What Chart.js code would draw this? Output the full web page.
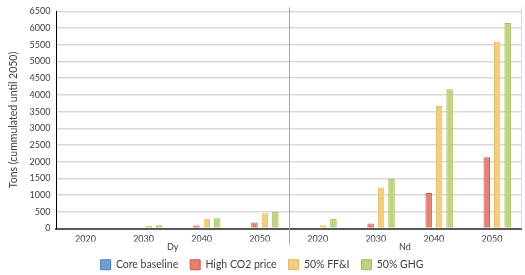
<!DOCTYPE html>
<html>
<head>
<meta charset="utf-8">
<script src="https://cdn.jsdelivr.net/npm/chart.js@4"></script>
<style>
  html, body { margin: 0; padding: 0; background: #fff; }
  #wrap { width: 525px; height: 275px; }
</style>
</head>
<body>
<div id="wrap"><canvas id="myChart"></canvas></div>
<script>
// data
var years = ['2020', '2030', '2040', '2050', '2020', '2030', '2040', '2050'];
var metals = ['Dy', 'Nd'];
var coreBaseline = [0, 0, 0, 0, 0, 0, 0, 0];
var highCO2 = [0, 0, 90, 180, 0, 150, 1060, 2130];
var ffi50 = [0, 80, 290, 460, 100, 1230, 3670, 5600];
var ghg50 = [0, 100, 310, 500, 290, 1490, 4170, 6150];
var yTicks = [0, 500, 1000, 1500, 2000, 2500, 3000, 3500, 4000, 4500, 5000, 5500, 6000, 6500];

var fuente = "Lato, 'Open Sans', sans-serif";

// lines splitting the two groups and closing the right side
const separador = {
    id: 'separador',
    afterDatasetsDraw(chart) {
        const ctx = chart.ctx;
        const x = chart.scales.x;
        const area = chart.chartArea;
        const mid = (x.getPixelForValue(3) + x.getPixelForValue(4)) / 2;
        ctx.save();
        ctx.strokeStyle = '#a6a6a6';
        ctx.lineWidth = 1;
        ctx.beginPath();
        ctx.moveTo(Math.round(mid) + 0.5, area.top - 4);
        ctx.lineTo(Math.round(mid) + 0.5, area.bottom + 16);
        ctx.stroke();
        ctx.strokeStyle = '#d9d9d9';
        ctx.beginPath();
        ctx.moveTo(Math.round(area.right) + 0.5, area.top - 4);
        ctx.lineTo(Math.round(area.right) + 0.5, area.bottom);
        ctx.stroke();
        ctx.restore();
    }
};

const dataConfig = {
    labels: years,
    datasets: [{
        label: 'Core baseline',
        data: coreBaseline,
        backgroundColor: '#6a9fd8',
        borderColor: '#4a80c0',
        borderWidth: 1
    }, {
        label: 'High CO2 price',
        data: highCO2,
        backgroundColor: '#e8806c',
        borderColor: '#d0584a',
        borderWidth: 1
    }, {
        label: '50% FF&I',
        data: ffi50,
        backgroundColor: '#f2cd7a',
        borderColor: '#e4b85c',
        borderWidth: 1
    }, {
        label: '50% GHG',
        data: ghg50,
        backgroundColor: '#bcd47c',
        borderColor: '#9ebb52',
        borderWidth: 1
    }]
};

const config = {
    type: 'bar',
    data: dataConfig,
    plugins: [separador],
    options: {
        responsive: true,
        maintainAspectRatio: false,
        animation: false,
        layout: { padding: { top: 4, right: 4, left: 3, bottom: -5 } },
        datasets: {
            bar: { barPercentage: 0.62, categoryPercentage: 0.72 }
        },
        plugins: {
            legend: {
                position: 'bottom',
                labels: {
                    font: { family: fuente, size: 10.5 },
                    color: '#404040',
                    boxWidth: 10,
                    boxHeight: 10,
                    padding: 12
                }
            },
            tooltip: { enabled: false }
        },
        scales: {
            x: {
                grid: { display: false, drawTicks: false },
                border: { color: '#595959', width: 2 },
                ticks: {
                    font: { family: fuente, size: 9 },
                    color: '#404040',
                    maxRotation: 0,
                    padding: 5
                },
                afterFit: function(axis) { axis.height = 13; }
            },
            x2: {
                // group names (Dy / Nd); mirror so the labels are not clipped to the thin box
                type: 'category',
                labels: metals,
                position: 'bottom',
                offset: true,
                grid: { display: false, drawTicks: false },
                border: { display: false },
                ticks: {
                    font: { family: fuente, size: 9 },
                    color: '#404040',
                    mirror: true,
                    padding: -11
                },
                afterFit: function(axis) { axis.height = 6; }
            },
            y: {
                min: 0,
                max: 6500,
                afterBuildTicks: function(axis) {
                    axis.ticks = yTicks.map(function(v) { return { value: v }; });
                },
                grid: { color: '#d9d9d9', lineWidth: 1.5, drawTicks: false },
                border: { color: '#000000', width: 1 },
                ticks: {
                    font: { family: fuente, size: 9 },
                    color: '#404040',
                    padding: 6,
                    callback: function(v) { return String(v); }
                },
                title: {
                    display: true,
                    text: 'Tons (cummulated until 2050)',
                    font: { family: fuente, size: 10.5 },
                    color: '#404040',
                    padding: 4
                }
            }
        }
    }
};

const myChart = new Chart(document.getElementById('myChart'), config);
</script>
</body>
</html>
